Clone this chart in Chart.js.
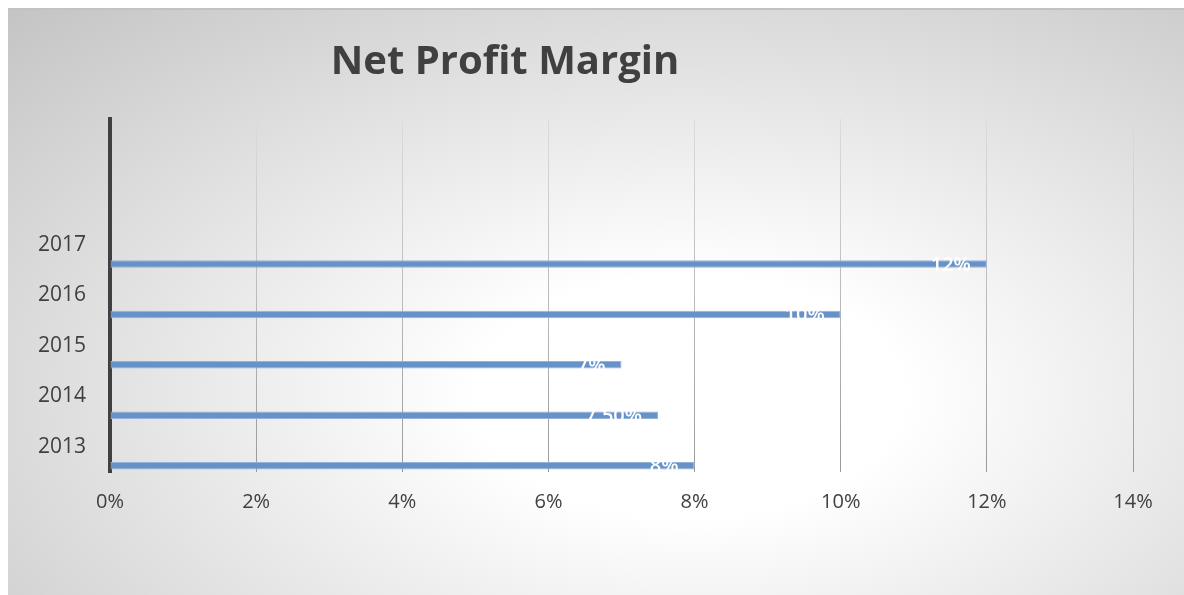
<!DOCTYPE html>
<html>
<head>
<meta charset="utf-8">
<script src="https://cdn.jsdelivr.net/npm/chart.js@4/dist/chart.umd.min.js"></script>
<style>
  html, body { margin: 0; padding: 0; background: #fff; }
  #wrap { position: relative; width: 1184px; height: 595px; overflow: hidden; }
  #panel {
    position: absolute; left: 8px; top: 8px; right: 0; bottom: 0;
    border-top: 2px solid #c2c2c2;
    background: radial-gradient(ellipse farthest-corner at 58% 66%, #ffffff 0%, #ffffff 22%, #c4c4c4 100%);
  }
  #chart { position: absolute; left: 0; top: 0; }
</style>
</head>
<body>
<div id="wrap">
  <div id="panel"></div>
  <canvas id="chart" width="1184" height="595"></canvas>
</div>
<script>
// data
var years = ['2013', '2014', '2015', '2016', '2017'];
var margins = [8, 7.5, 7, 10, 12]; // percent
var xTicks = { min: 0, max: 14, step: 2 };
var chartTitle = 'Net Profit Margin';

var FONT = '"Open Sans", "Noto Sans", sans-serif';
var TEXT = '#404040';

// two empty bands on top, newest year first (Excel style)
var cats = ['', ''].concat(years.slice().reverse());
var values = [null, null].concat(margins.slice().reverse());

function fmtPct(v) {
    return Number.isInteger(v) ? v + '%' : v.toFixed(2) + '%';
}

// empty series so the real bar sits at the bottom of its band
var datasets = [];
for (var i = 0; i < 5; i++) {
    datasets.push({ label: 's' + i, data: cats.map(function () { return 0; }), backgroundColor: 'rgba(0,0,0,0)', borderWidth: 0 });
}
datasets.push({
    label: 'Net Profit Margin',
    data: values,
    backgroundColor: '#6792c8',
    borderColor: '#93b3db',
    borderWidth: 1
});

// title drawn by hand, Excel put it left of centre
var titlePlugin = {
    id: 'titleText',
    afterDraw: function (chart) {
        var ctx = chart.ctx;
        ctx.save();
        ctx.font = 'bold 40px ' + FONT;
        ctx.fillStyle = TEXT;
        ctx.textAlign = 'center';
        ctx.textBaseline = 'middle';
        ctx.fillText(chartTitle, 505, 63);
        ctx.restore();
    }
};

// white value labels, inside end of bar
var valueLabels = {
    id: 'valueLabels',
    afterDatasetsDraw: function (chart) {
        var ctx = chart.ctx;
        var last = chart.data.datasets.length - 1;
        var meta = chart.getDatasetMeta(last);
        ctx.save();
        ctx.font = '600 20px ' + FONT;
        ctx.fillStyle = '#ffffff';
        ctx.textAlign = 'right';
        ctx.textBaseline = 'middle';
        meta.data.forEach(function (bar, idx) {
            var v = values[idx];
            if (v === null) return;
            ctx.fillText(fmtPct(v), bar.x - 16, bar.y + 1);
        });
        ctx.restore();
    }
};

new Chart(document.getElementById('chart'), {
    type: 'bar',
    data: { labels: cats, datasets: datasets },
    options: {
        indexAxis: 'y',
        responsive: false,
        animation: false,
        categoryPercentage: 0.9,
        barPercentage: 1,
        layout: { padding: { left: 14, right: 51, top: 119, bottom: 63 } },
        plugins: {
            legend: { display: false },
            tooltip: { enabled: false },
            title: { display: false }
        },
        scales: {
            x: {
                min: xTicks.min,
                max: xTicks.max,
                ticks: {
                    stepSize: xTicks.step,
                    color: TEXT,
                    font: { family: FONT, size: 20 },
                    padding: 18,
                    callback: function (v) { return v + '%'; }
                },
                grid: {
                    drawTicks: false,
                    lineWidth: 1,
                    color: function (c) {
                        var a = c.chart.chartArea;
                        if (!a) return '#cccccc';
                        var g = c.chart.ctx.createLinearGradient(0, a.top, 0, a.bottom);
                        g.addColorStop(0, '#dcdcdc');
                        g.addColorStop(1, '#9a9a9a');
                        return g;
                    }
                },
                border: { display: false }
            },
            y: {
                ticks: {
                    color: TEXT,
                    font: { family: FONT, size: 21 },
                    padding: 24
                },
                grid: { display: false, drawTicks: false },
                border: { display: true, color: '#404040', width: 4 }
            }
        }
    },
    plugins: [titlePlugin, valueLabels]
});
</script>
</body>
</html>
